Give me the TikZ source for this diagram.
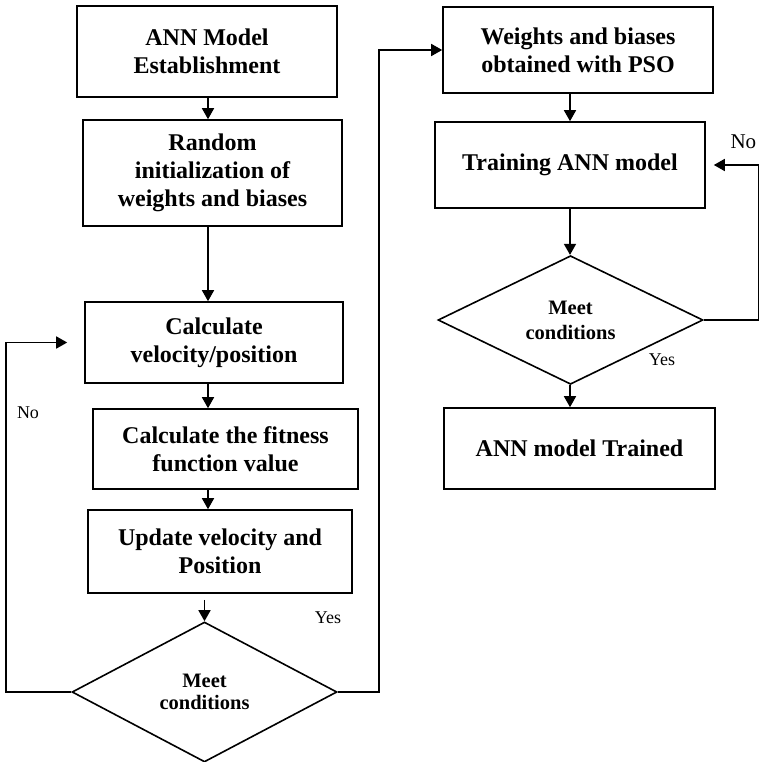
\documentclass[tikz,border=0pt]{standalone}
\usepackage{fontspec}
\setmainfont{Liberation Serif}
\usetikzlibrary{arrows.meta, shapes.geometric}

\begin{document}
\begin{tikzpicture}[x=1pt, y=-1pt, line width=1.6pt,
    box/.style={draw, rectangle, align=center, inner sep=0pt,
      font=\bfseries\fontsize{24}{28}\selectfont},
    cond/.style={draw, diamond, align=center, inner sep=0pt,
      font=\bfseries\fontsize{20.5}{22}\selectfont},
    lbl/.style={inner sep=0pt, font=\fontsize{18}{20}\selectfont},
    arr/.style={-{Triangle[length=11pt, width=12pt]}}]%
  \useasboundingbox (0,0) rectangle (759,762);

  % PSO side
  \coordinate (lcol) at (208,0);
  \node[box, minimum width=260pt, minimum height=91pt] (est) at (207,51.5)
    {ANN Model\\Establishment};
  \node[box, minimum width=259pt, minimum height=106pt] (rand) at (212.5,173)
    {Random\\initialization of\\weights and biases};
  \node[box, minimum width=258pt, minimum height=81pt] (calc) at (214,342.5)
    {Calculate\\velocity/position};
  \node[box, minimum width=265pt, minimum height=80pt] (fit) at (225.5,449)
    {Calculate the fitness\\function value};
  \node[box, minimum width=264pt, minimum height=83pt] (upd) at (220,551.5)
    {Update velocity and\\Position};
  \node[cond, minimum width=265pt, minimum height=140pt] (pcond) at (204.5,692)
    {Meet\\conditions};

  % ANN side
  \coordinate (rcol) at (570,0);
  \node[box, minimum width=270pt, minimum height=86pt] (pso) at (578,50)
    {Weights and biases\\obtained with PSO};
  \node[box, minimum width=270pt, minimum height=86pt] (train) at (570,165)
    {Training ANN model};
  \node[cond, minimum width=265pt, minimum height=125pt,
    font=\bfseries\fontsize{20.5}{25}\selectfont] (acond) at (570.5,320)
    {Meet\\conditions};
  \node[box, minimum width=271pt, minimum height=81pt] (done) at (579.5,448.5)
    {ANN model Trained};

  \foreach \a/\b in {est/rand, rand/calc, calc/fit, fit/upd} {
    \draw[arr] (\a.south -| lcol) -- (\b.north -| lcol);
  }
  \draw[arr, shorten <=6pt] (upd.south -| pcond.north) -- (pcond.north);
  \draw[arr, shorten >=17pt] (pcond.west) -- ++(-65,0) |- (calc.west);
  \draw[arr] (pcond.east) -- ++(41,0) |- (pso.west);
  \node[lbl] (pno) at (28,413) {No};
  \node[lbl] (pyes) at (328,618) {Yes};

  \foreach \a/\b in {pso/train, train/acond, acond/done} {
    \draw[arr] (\a.south -| rcol) -- (\b.north -| rcol);
  }
  \draw[arr, shorten >=8pt] (acond.east) -- ++(55,0) |- (train.east);
  \node[lbl, anchor=east, font=\fontsize{21}{22}\selectfont] (ano) at (757,142) {No};
  \node[lbl] (ayes) at (662,360) {Yes};
\end{tikzpicture}
\end{document}
